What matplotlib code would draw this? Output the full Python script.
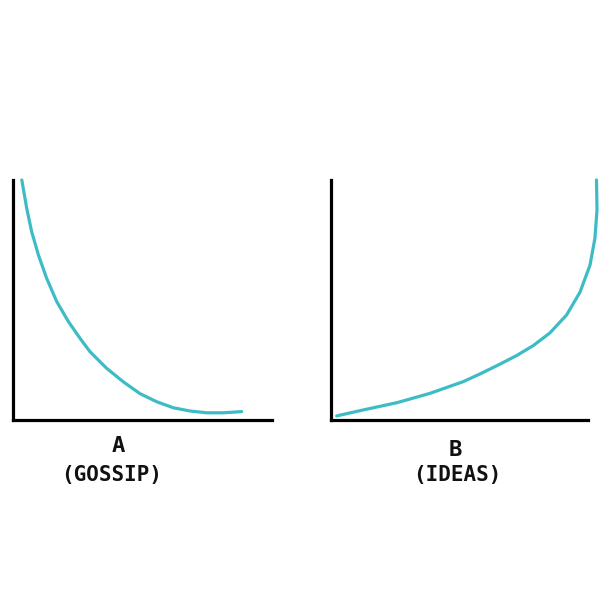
import matplotlib.pyplot as plt

# curve A (gossip): falls fast, then flattens out
gossip_x = [3.4, 5.3, 7.2, 9.8, 13.0, 16.9, 21.4, 25.9, 29.7, 36.2, 42.6, 49.0, 55.5, 61.9, 68.3, 74.8, 81.2, 88.3]
gossip_y = [100, 88.2, 78.5, 68.8, 59.0, 49.3, 41.0, 34.0, 28.5, 21.5, 15.9, 11.0, 7.6, 5.1, 3.75, 3.0, 3.0, 3.5]

# curve B (ideas): slow start, then shoots up
ideas_x = [2.2, 12.6, 25.6, 38.5, 51.5, 58.0, 65.8, 72.3, 78.7, 85.2, 91.7, 96.9, 100.8, 102.7, 103.5, 103.3]
ideas_y = [1.7, 4.2, 7.2, 11.1, 16.0, 19.2, 23.3, 26.9, 31.0, 36.3, 43.8, 53.3, 64.6, 75.8, 87.5, 100]

letters = ["A", "B"]
captions = ["(GOSSIP)", "(IDEAS)"]

teal = "#3dbcc6"
W = 610.0

fig = plt.figure(figsize=(6.1, 6.1), dpi=100)
fig.patch.set_facecolor("white")

ax1 = fig.add_axes([13 / W, 190 / W, 259 / W, 240 / W])
ax2 = fig.add_axes([331 / W, 190 / W, 257 / W, 240 / W])

for ax, xs, ys in [(ax1, gossip_x, gossip_y), (ax2, ideas_x, ideas_y)]:
    ax.plot(xs, ys, color=teal, lw=2.3, solid_capstyle="round", solid_joinstyle="round", clip_on=False)
    ax.set_xlim(0, 100)
    ax.set_ylim(0, 100)
    ax.spines["top"].set_visible(False)
    ax.spines["right"].set_visible(False)
    ax.spines["left"].set_linewidth(2.3)
    ax.spines["bottom"].set_linewidth(2.3)
    ax.set_xticks([])
    ax.set_yticks([])
    ax.patch.set_alpha(0)

# labels under each sketch
font = dict(family="DejaVu Sans Mono", color="#111111", ha="center", va="center", fontweight="bold")
fig.text(118 / W, 1 - 446 / W, letters[0], fontsize=16, **font)
fig.text(112 / W, 1 - 475 / W, captions[0], fontsize=15, **font)
fig.text(455 / W, 1 - 450 / W, letters[1], fontsize=16, **font)
fig.text(457 / W, 1 - 475 / W, captions[1], fontsize=15, **font)

fig.savefig("out.png", dpi=100, facecolor="white")
